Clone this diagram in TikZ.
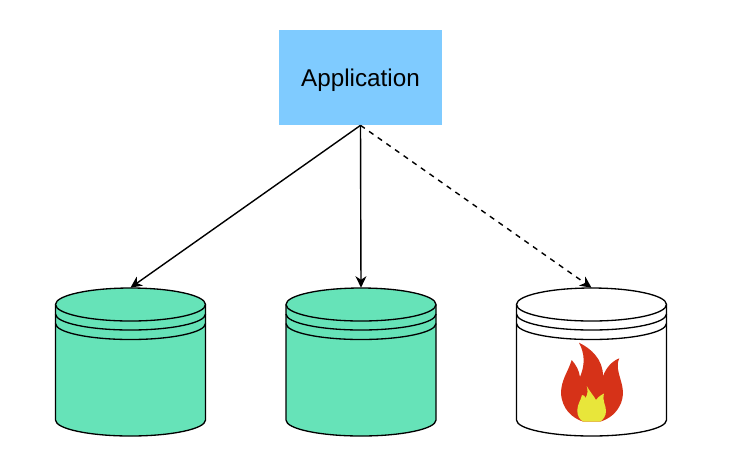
\documentclass[tikz,border=0pt]{standalone}
\usepackage{fontspec}
\setmainfont{Liberation Sans}
\usetikzlibrary{arrows.meta}
\definecolor{appblue}{HTML}{7FCBFF}
\definecolor{dbgreen}{HTML}{66E3B8}
\definecolor{flamered}{HTML}{D63218}
\definecolor{flameyellow}{HTML}{E8E63A}
\tikzset{
  appbox/.style={fill=appblue,minimum width=3.26cm,minimum height=1.9cm,inner sep=0pt,text depth=0.3pt,font=\fontsize{13.8}{16}\selectfont},
  dbbox/.style={minimum width=3cm,minimum height=2.96cm,inner sep=0pt},
  dbline/.style={black,line width=0.75pt},
  link/.style={black,line width=0.8pt,-{Stealth[length=6.5pt,width=6.2pt,inset=2pt]}}
}

\begin{document}
\begin{tikzpicture}[x=0.02cm,y=0.02cm]
\useasboundingbox (0,0) rectangle (743,-464);
\node [appbox] (app) at (360.5,-77.5) {Application};
\foreach \name/\x/\col in {dbone/130.5/dbgreen,dbtwo/361/dbgreen,dbthree/591.5/white} {
  \node [dbbox] (\name) at (\x,-362) {};
  \draw [dbline,fill=\col] (\x-75,-304.5) -- (\x-75,-420) arc (180:360:75 and 16) -- (\x+75,-304.5) arc (0:180:75 and 16.5) -- cycle;
  \draw [dbline] (\x-75,-304.5) arc (180:360:75 and 16.5);
  \draw [dbline] (\x-75,-314) arc (180:360:75 and 16);
  \draw [dbline] (\x-75,-323.5) arc (180:360:75 and 16);
}
% flame on the third drum
\fill [flamered] (579,-342.7) .. controls (592,-349) and (603,-360) .. (603,-376)
  .. controls (606,-368) and (612,-361) .. (619.3,-358.3)
  .. controls (613,-372) and (628,-385) .. (621,-403)
  .. controls (617,-413) and (609,-419) .. (600,-421.7) -- (583.3,-421.7)
  .. controls (572,-418) and (562,-409) .. (561,-393.3)
  .. controls (561,-380) and (568,-372) .. (571.7,-360)
  .. controls (576,-365) and (579,-370) .. (580,-377)
  .. controls (585,-365) and (585,-354) .. (579,-342.7) -- cycle;
\fill [flameyellow] (586.7,-386) .. controls (590,-392) and (594,-396) .. (596,-400)
  .. controls (599,-396) and (601,-395) .. (604,-393.5)
  .. controls (602,-401) and (606,-405) .. (606,-411)
  .. controls (606,-416) and (603,-420) .. (600,-421.7) -- (583.3,-421.7)
  .. controls (580,-420) and (577,-416) .. (577.3,-410)
  .. controls (577.5,-404) and (581,-400) .. (582,-395)
  .. controls (584,-395) and (585,-396) .. (585.5,-398)
  .. controls (588,-394) and (588,-390) .. (586.7,-386) -- cycle;
\draw [link] (app.south) -- (dbone.north);
\draw [link] (app.south) -- (dbtwo.north);
\draw [link,dashed] (app.south) -- (dbthree.north);
\end{tikzpicture}
\end{document}
